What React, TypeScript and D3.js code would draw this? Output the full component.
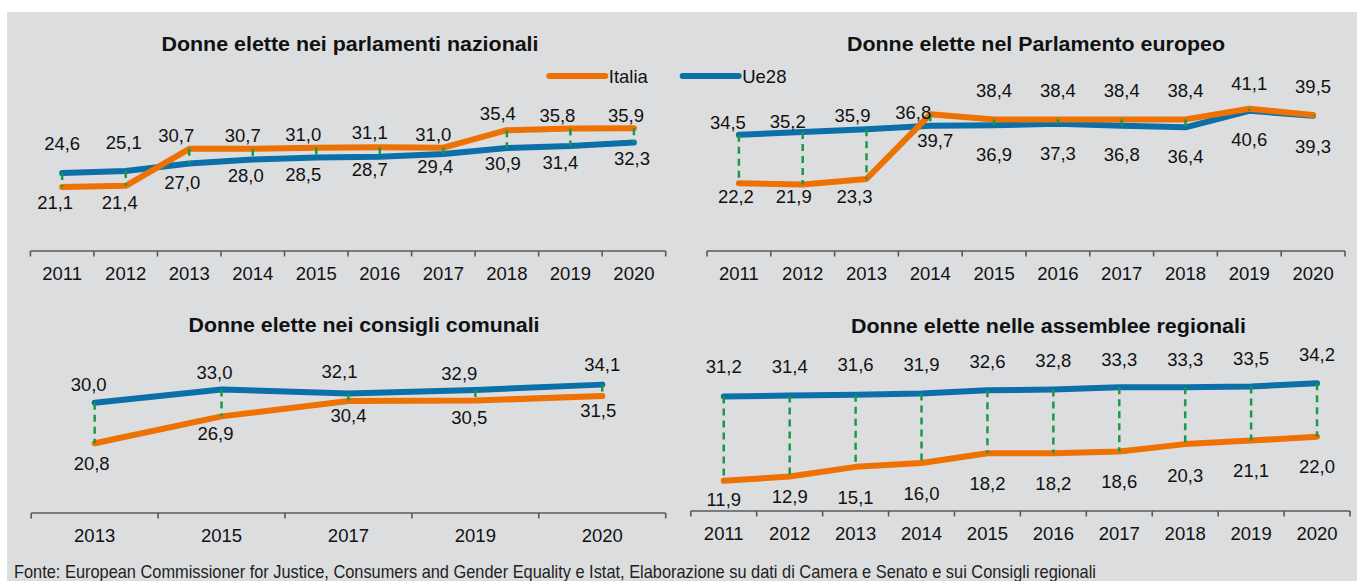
import React from 'react';
import * as d3 from 'd3';

// ---------- DATA ----------
const years = ['2011', '2012', '2013', '2014', '2015', '2016', '2017', '2018', '2019', '2020'];
const comunaliYears = ['2013', '2015', '2017', '2019', '2020'];

const parlamentiItalia = [21.1, 21.4, 30.7, 30.7, 31.0, 31.1, 31.0, 35.4, 35.8, 35.9];
const parlamentiUe28 = [24.6, 25.1, 27.0, 28.0, 28.5, 28.7, 29.4, 30.9, 31.4, 32.3];

const europeoItalia = [22.2, 21.9, 23.3, 39.7, 38.4, 38.4, 38.4, 38.4, 41.1, 39.5];
const europeoUe28 = [34.5, 35.2, 35.9, 36.8, 36.9, 37.3, 36.8, 36.4, 40.6, 39.3];

const comunaliItalia = [20.8, 26.9, 30.4, 30.5, 31.5];
const comunaliUe28 = [30.0, 33.0, 32.1, 32.9, 34.1];

const regionaliItalia = [11.9, 12.9, 15.1, 16.0, 18.2, 18.2, 18.6, 20.3, 21.1, 22.0];
const regionaliUe28 = [31.2, 31.4, 31.6, 31.9, 32.6, 32.8, 33.3, 33.3, 33.5, 34.2];

const seriesNames = ['Italia', 'Ue28'];
const titles = [
  'Donne elette nei parlamenti nazionali',
  'Donne elette nel Parlamento europeo',
  'Donne elette nei consigli comunali',
  'Donne elette nelle assemblee regionali',
];
const sourceNote =
  'Fonte: European Commissioner for Justice, Consumers and Gender Equality e Istat, Elaborazione su dati di Camera e Senato e sui Consigli regionali';

// ---------- STYLE / LAYOUT ----------
const BG = '#dcdddf';
const ORANGE = '#ed7103';
const BLUE = '#0b6fa8';
const GREEN = '#1a9a48';
const AXIS = '#595959';
const TEXT = '#111111';
const FONT = '"Liberation Sans", Arial, Helvetica, sans-serif';

type Panel = {
  title: string;
  cats: string[];
  italia: number[];
  ue: number[];
  x0: number; x1: number; axisY: number; yTop: number; domain: [number, number];
  titleX: number; titleY: number; titleW: number; tickY: number;
  itDy: number[]; itDx: number[]; ueDy: number[]; ueDx: number[];
};

const panels: Panel[] = [
  {
    title: titles[0], cats: years, italia: parlamentiItalia, ue: parlamentiUe28,
    x0: 30.4, x1: 665.7, axisY: 251, yTop: 92, domain: [5, 45],
    titleX: 350, titleY: 51.3, titleW: 377, tickY: 279.5,
    itDy: [15, 17, -14, -14, -13, -15, -13, -17, -13, -13],
    itDx: [-7, -6, -13, -10, -13, -10, -10, -9, -13, -8],
    ueDy: [-30, -29, 19, 16, 17, 13, 12, 15, 16, 16],
    ueDx: [0, -2, -7, -7, -13, -10, -8, -4, -10, -2],
  },
  {
    title: titles[1], cats: years, italia: europeoItalia, ue: europeoUe28,
    x0: 707, x1: 1345, axisY: 251, yTop: 93.4, domain: [5, 45],
    titleX: 1036, titleY: 51.3, titleW: 378, tickY: 280,
    itDy: [13, 12, 17, 26, -29, -29, -29, -29, -25, -29],
    itDx: [-3, -9, -12, 5, 0, 0, 0, 0, 0, 0],
    ueDy: [-12, -11, -14, -13, 29, 30, 29, 29, 29, 30],
    ueDx: [-11, -15, -14, -17, 0, 0, 0, 0, 0, 0],
  },
  {
    title: titles[2], cats: comunaliYears, italia: comunaliItalia, ue: comunaliUe28,
    x0: 31.2, x1: 665.7, axisY: 513, yTop: 358.6, domain: [5, 40],
    titleX: 364, titleY: 331.7, titleW: 351, tickY: 541.5,
    itDy: [20, 17, 14, 17, 14],
    itDx: [-3, -6, 0, -6, -4],
    ueDy: [-18, -17, -22, -17, -20],
    ueDx: [-6, -7, -9, -16, 0],
  },
  {
    title: titles[3], cats: years, italia: regionaliItalia, ue: regionaliUe28,
    x0: 690.8, x1: 1350, axisY: 511, yTop: 358, domain: [5, 40],
    titleX: 1048.5, titleY: 332.7, titleW: 395, tickY: 540,
    itDy: [19, 20, 30, 30, 30, 30, 30, 31, 30, 30],
    itDx: [0, 0, 0, 0, 0, 0, 0, 0, 0, 0],
    ueDy: [-30, -29, -30, -29, -29, -29, -28, -28, -28, -29],
    ueDx: [0, 0, 0, 0, 0, 0, 0, 0, 0, 0],
  },
];

const fmt = (v: number) => v.toFixed(1).replace('.', ',');
const LABEL_FS = 18.5;

function ChartPanel({ p }: { p: Panel }) {
  const x = d3.scaleBand<string>().domain(p.cats).range([p.x0, p.x1]).padding(0);
  const y = d3.scaleLinear().domain(p.domain).range([p.axisY, p.yTop]);
  const cx = (c: string) => (x(c) as number) + x.bandwidth() / 2;
  const line = d3
    .line<number>()
    .x((_, i) => cx(p.cats[i]))
    .y((d) => y(d));
  const edges = [...p.cats.map((c) => x(c) as number), p.x1];

  return (
    <g>
      <text x={p.titleX - p.titleW / 2} y={p.titleY} fontFamily={FONT} fontWeight="bold" fontSize={20}
        fill={TEXT} textLength={p.titleW} lengthAdjust="spacingAndGlyphs">
        {p.title}
      </text>
      {/* axis */}
      <line x1={p.x0} x2={p.x1} y1={p.axisY} y2={p.axisY} stroke={AXIS} strokeWidth={1.6} />
      {edges.map((e, i) => (
        <line key={'t' + i} x1={e} x2={e} y1={p.axisY} y2={p.axisY + 5.5} stroke={AXIS} strokeWidth={1.6} />
      ))}
      {p.cats.map((c) => (
        <text key={'l' + c} x={cx(c)} y={p.tickY} textAnchor="middle" fontFamily={FONT} fontSize={18.5} fill={TEXT}>
          {c}
        </text>
      ))}
      {/* series */}
      <path d={line(p.ue) || ''} fill="none" stroke={BLUE} strokeWidth={6} strokeLinecap="round" strokeLinejoin="round" />
      <path d={line(p.italia) || ''} fill="none" stroke={ORANGE} strokeWidth={6} strokeLinecap="round" strokeLinejoin="round" />
      {/* drop lines */}
      {p.cats.map((c, i) => {
        const yUe = y(p.ue[i]);
        const yIt = y(p.italia[i]);
        return (
          <line key={'d' + c} x1={cx(c)} x2={cx(c)} y1={Math.min(yUe, yIt)} y2={Math.max(yUe, yIt)}
            stroke={GREEN} strokeWidth={2.5} strokeDasharray="7,5" />
        );
      })}
      {/* labels */}
      {p.cats.map((c, i) => (
        <g key={'v' + c}>
          <text x={cx(c) + p.itDx[i]} y={y(p.italia[i]) + p.itDy[i] + LABEL_FS * 0.36} textAnchor="middle"
            fontFamily={FONT} fontSize={LABEL_FS} fill={TEXT}>
            {fmt(p.italia[i])}
          </text>
          <text x={cx(c) + p.ueDx[i]} y={y(p.ue[i]) + p.ueDy[i] + LABEL_FS * 0.36} textAnchor="middle"
            fontFamily={FONT} fontSize={LABEL_FS} fill={TEXT}>
            {fmt(p.ue[i])}
          </text>
        </g>
      ))}
    </g>
  );
}

export default function App() {
  const legendColors = [ORANGE, BLUE];
  const legendX = [549.3, 682.7];
  return (
    <svg width={1357} height={581} style={{ position: 'absolute', left: 0, top: 0 }}>
      <rect x={0} y={0} width={1357} height={581} fill="#ffffff" />
      <rect x={7} y={12} width={1350} height={569} fill={BG} />
      {panels.map((p, i) => (
        <ChartPanel key={i} p={p} />
      ))}
      {seriesNames.map((n, i) => (
        <g key={n}>
          <line x1={legendX[i]} x2={legendX[i] + 56} y1={76} y2={76} stroke={legendColors[i]} strokeWidth={6} strokeLinecap="round" />
          <text x={legendX[i] + 59.5} y={76 + 18.5 * 0.36} fontFamily={FONT} fontSize={18.5} fill={TEXT}>
            {n}
          </text>
        </g>
      ))}
      <text x={14} y={578} fontFamily={FONT} fontSize={18.5} fill="#222" textLength={1082} lengthAdjust="spacingAndGlyphs">
        {sourceNote}
      </text>
    </svg>
  );
}
